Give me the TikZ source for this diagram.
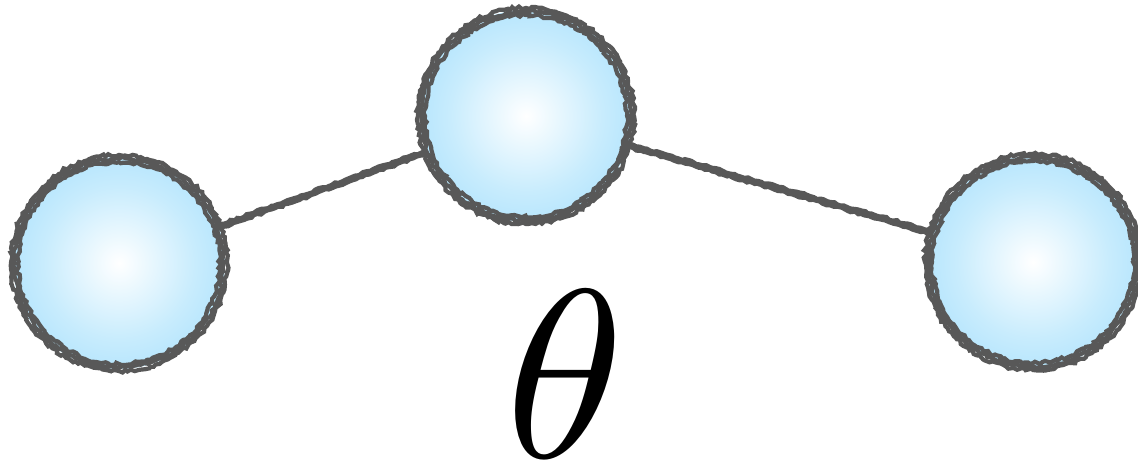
\documentclass[tikz,border=0pt]{standalone}
\usepackage{graphicx}
\usetikzlibrary{decorations.pathmorphing,backgrounds}
\definecolor{rim}{RGB}{88,88,88}
\definecolor{ballmid}{RGB}{200,236,253}
\definecolor{ballout}{RGB}{125,208,250}
\pgfdeclareradialshading{ballshade}{\pgfpoint{0bp}{0bp}}{color(0bp)=(white); color(18bp)=(ballmid); color(50bp)=(ballout)}
\tikzset{
  ball/.style={circle, inner sep=0pt, minimum size=106pt, shading=ballshade},
  roughrim/.style={draw=rim, line width=2.1pt, line cap=round,
    decorate, decoration={random steps, segment length=1.6pt, amplitude=0.8pt}},
  roughlink/.style={draw=rim, line width=2.5pt, line cap=round,
    decorate, decoration={random steps, segment length=1.8pt, amplitude=0.5pt}},
}
\begin{document}
\begin{tikzpicture}[x=0.5pt, y=0.5pt]
\useasboundingbox (0,0) rectangle (1138,467);
\pgfmathsetseed{7}
\node[ball] (L) at (119,204) {};
\node[ball] (M) at (526,351) {};
\node[ball] (R) at (1033,205) {};
\begin{pgfonlayer}{background}
  \draw[roughlink] ([yshift=0.7pt]L.center) -- ([yshift=0.7pt]M.center);
  \draw[roughlink] ([yshift=-0.7pt]L.center) -- ([yshift=-0.7pt]M.center);
  \draw[roughlink] ([yshift=0.7pt]M.center) -- ([yshift=0.7pt]R.center);
  \draw[roughlink] ([yshift=-0.7pt]M.center) -- ([yshift=-0.7pt]R.center);
\end{pgfonlayer}
\foreach \n in {L,M,R}{
  \draw[roughrim] (\n.center) circle[radius=101];
  \draw[roughrim] (\n.center) circle[radius=104.5];
  \draw[roughrim] (\n.center) circle[radius=108];
}
\node[inner sep=0pt] (theta) at (565,93) {\scalebox{12}{$\theta$}};
\end{tikzpicture}
\end{document}
